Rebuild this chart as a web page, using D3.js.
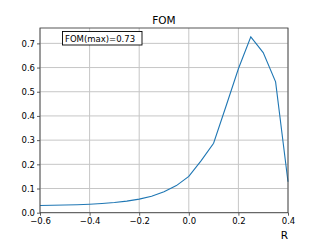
<!DOCTYPE html>
<html lang="en">
<head>
	<meta charset="UTF-8">
	<title>FOM</title>
	<style>
		body { margin: 0; background: #fff; }
		text { font-family: "DejaVu Sans", sans-serif; fill: #000; }
	</style>
</head>
<body>
	<script src="https://d3js.org/d3.v7.min.js"></script>
	<script type="text/javascript">
		// data
		var rValues = [-0.6, -0.55, -0.5, -0.45, -0.4, -0.35, -0.3, -0.25, -0.2, -0.15, -0.1, -0.05, 0.0, 0.05, 0.1, 0.15, 0.2, 0.25, 0.3, 0.35, 0.4];
		var fomValues = [0.030, 0.031, 0.032, 0.033, 0.035, 0.038, 0.042, 0.048, 0.056, 0.068, 0.087, 0.112, 0.150, 0.215, 0.287, 0.44, 0.595, 0.727, 0.662, 0.541, 0.128];
		var xTicks = [-0.6, -0.4, -0.2, 0.0, 0.2, 0.4];
		var yTicks = [0.0, 0.1, 0.2, 0.3, 0.4, 0.5, 0.6, 0.7];
		var title = "FOM";
		var xLabel = "R";
		var note = "FOM(max)=0.73";

		var W = 320, H = 240;
		var pLeft = 40, pRight = 288, pTop = 28, pBottom = 212.7;

		var svg = d3.select("body").append("svg").attr("width", W).attr("height", H);

		var x = d3.scaleLinear().domain([-0.6, 0.4]).range([pLeft, pRight]);
		var y = d3.scaleLinear().domain([0, 0.7635]).range([pBottom, pTop]);

		//网格
		svg.append("g").selectAll("line").data(xTicks).enter().append("line")
			.attr("x1", function(d){ return x(d); }).attr("x2", function(d){ return x(d); })
			.attr("y1", pTop).attr("y2", pBottom)
			.attr("stroke", "#c6c6c6").attr("stroke-width", 1);
		svg.append("g").selectAll("line").data(yTicks).enter().append("line")
			.attr("x1", pLeft).attr("x2", pRight)
			.attr("y1", function(d){ return y(d); }).attr("y2", function(d){ return y(d); })
			.attr("stroke", "#c6c6c6").attr("stroke-width", 1);

		//曲线
		var line = d3.line().x(function(d){ return x(d[0]); }).y(function(d){ return y(d[1]); });
		svg.append("path").datum(d3.zip(rValues, fomValues))
			.attr("d", line).attr("fill", "none")
			.attr("stroke", "#1f77b4").attr("stroke-width", 1.1);

		//坐标轴
		var xAxis = svg.append("g").attr("transform", "translate(0," + pBottom + ")")
			.call(d3.axisBottom(x).tickValues(xTicks).tickSize(3).tickPadding(2)
				.tickFormat(function(d){ return d3.format(".1f")(d).replace("-", "\u2212"); }));
		var yAxis = svg.append("g").attr("transform", "translate(" + pLeft + ",0)")
			.call(d3.axisLeft(y).tickValues(yTicks).tickSize(3).tickPadding(2).tickFormat(d3.format(".1f")));
		[xAxis, yAxis].forEach(function(a){
			a.select(".domain").remove();
			a.selectAll("line").attr("stroke", "#333").attr("stroke-width", 0.8);
			a.selectAll("text").style("font-family", "DejaVu Sans").style("font-size", "8.5px").attr("fill", "#000");
		});

		//边框
		svg.append("rect").attr("x", pLeft).attr("y", pTop)
			.attr("width", pRight - pLeft).attr("height", pBottom - pTop)
			.attr("fill", "none").attr("stroke", "#444").attr("stroke-width", 0.9);

		//标题
		svg.append("text").attr("x", (pLeft + pRight) / 2).attr("y", 24)
			.attr("text-anchor", "middle").style("font-size", "10.5px").text(title);
		svg.append("text").attr("x", pRight).attr("y", 239)
			.attr("text-anchor", "end").style("font-size", "10.5px").text(xLabel);

		//注释框
		var nb = svg.append("g");
		nb.append("rect").attr("x", 62.5).attr("y", 31.5).attr("width", 79.5).attr("height", 13.5)
			.attr("fill", "#fff").attr("stroke", "#000").attr("stroke-width", 0.9);
		nb.append("text").attr("x", 65).attr("y", 41.5).style("font-size", "8.5px").text(note);
	</script>
</body>
</html>
